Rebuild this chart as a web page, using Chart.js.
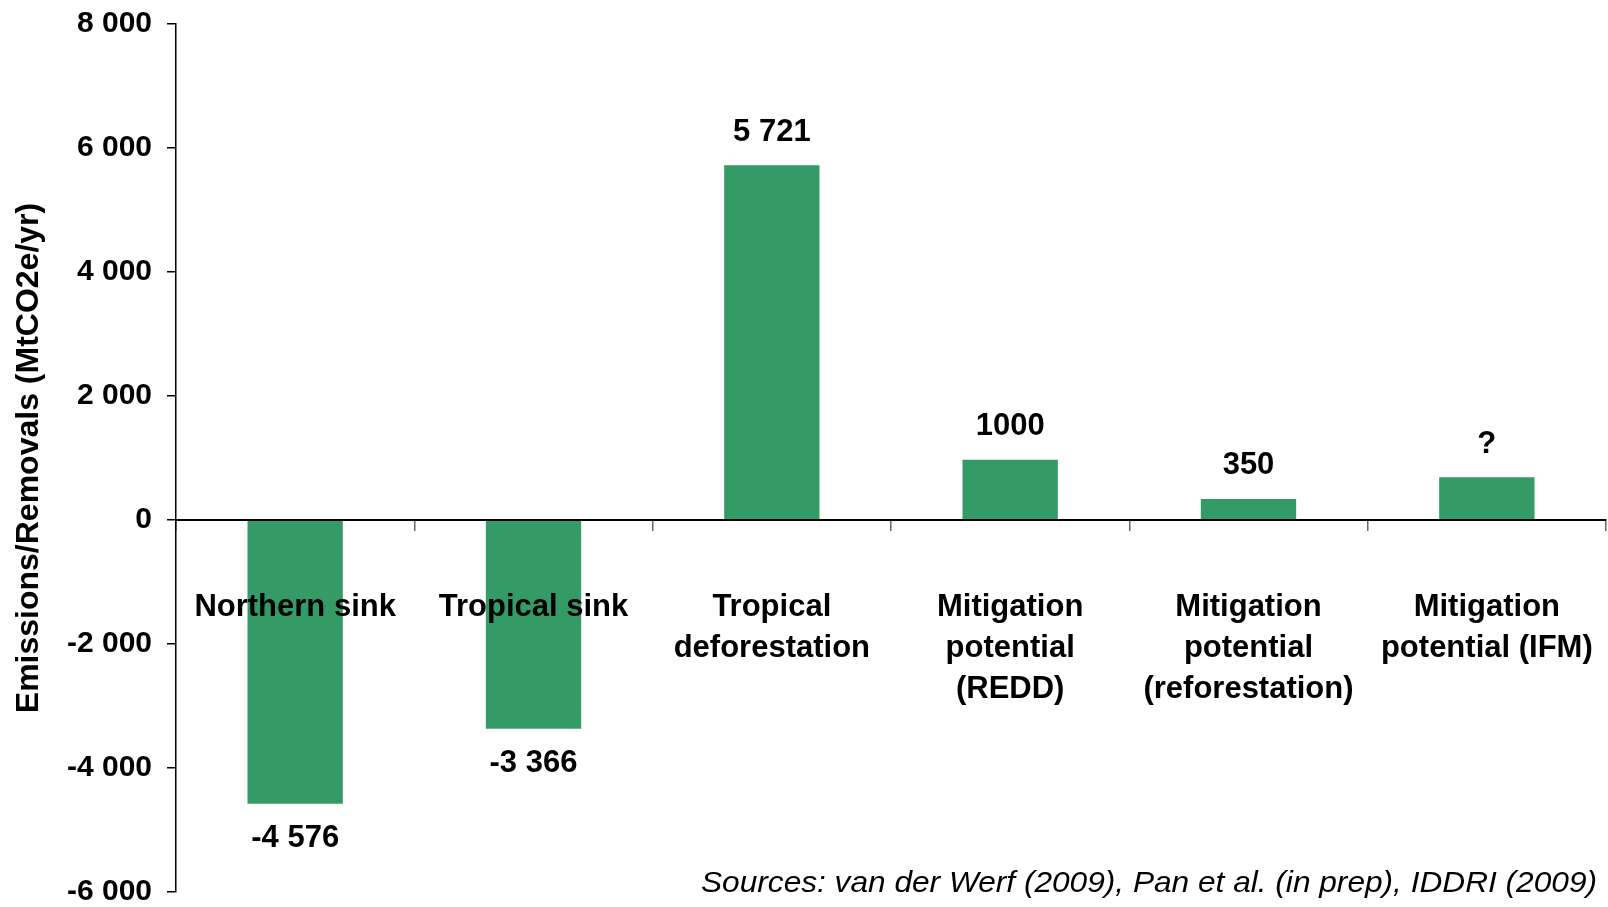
<!DOCTYPE html>
<html>
<head>
<meta charset="utf-8">
<script src="https://cdn.jsdelivr.net/npm/chart.js@4/dist/chart.umd.min.js"></script>
<style>
  html, body { margin: 0; padding: 0; background: #fff; }
  #wrap { width: 1608px; height: 907px; position: relative; }
</style>
</head>
<body>
<div id="wrap"><canvas id="c" width="1608" height="907"></canvas></div>
<script>
// ---- data ----
const categories = [
  ['Northern sink'],
  ['Tropical sink'],
  ['Tropical', 'deforestation'],
  ['Mitigation', 'potential', '(REDD)'],
  ['Mitigation', 'potential', '(reforestation)'],
  ['Mitigation', 'potential (IFM)']
];
const values = [-4576, -3366, 5721, 970, 340, 690];
const valueLabels = ['-4 576', '-3 366', '5 721', '1000', '350', '?'];
const yTickValues = [-6000, -4000, -2000, 0, 2000, 4000, 6000, 8000];
const yTickLabels = ['-6 000', '-4 000', '-2 000', '0', '2 000', '4 000', '6 000', '8 000'];
const yTitle = 'Emissions/Removals (MtCO2e/yr)';
const sourceNote = 'Sources: van der Werf (2009), Pan et al. (in prep), IDDRI (2009)';

const FONT = '"Liberation Sans", Arial, Helvetica, sans-serif';
const BAR = '#349B67';

const valueLabelPlugin = {
  id: 'valueLabels',
  afterDatasetsDraw(chart) {
    const ctx = chart.ctx;
    const meta = chart.getDatasetMeta(0);
    ctx.save();
    ctx.font = 'bold 31px ' + FONT;
    ctx.fillStyle = '#000';
    ctx.textAlign = 'center';
    ctx.textBaseline = 'middle';
    meta.data.forEach((bar, i) => {
      const v = values[i];
      const y = v >= 0 ? bar.y - 33 : bar.y + 35;
      ctx.fillText(valueLabels[i], bar.x, y);
    });
    ctx.restore();
  }
};

const sourcePlugin = {
  id: 'sourceNote',
  afterDraw(chart) {
    const ctx = chart.ctx;
    ctx.save();
    ctx.font = 'italic 30px ' + FONT;
    ctx.fillStyle = '#000';
    ctx.textBaseline = 'middle';
    ctx.textAlign = 'left';
    const w = ctx.measureText(sourceNote).width;
    const target = 896;
    const right = 1597;
    ctx.translate(right - target, 884);
    ctx.scale(target / w, 1);
    ctx.fillText(sourceNote, 0, 0);
    ctx.restore();
  }
};

new Chart(document.getElementById('c'), {
  type: 'bar',
  data: {
    labels: categories,
    datasets: [{
      data: values,
      backgroundColor: BAR,
      borderWidth: 0,
      barPercentage: 0.4,
      categoryPercentage: 1.0
    }]
  },
  options: {
    responsive: false,
    animation: false,
    layout: { padding: { top: 24, right: 2, bottom: 15, left: 0 } },
    plugins: {
      legend: { display: false },
      tooltip: { enabled: false }
    },
    scales: {
      x: {
        position: { y: 0 },
        offset: true,
        grid: {
          offset: true,
          drawOnChartArea: false,
          drawTicks: true,
          tickLength: 10,
          color: '#666',
          lineWidth: 1.5
        },
        border: { display: true, color: '#000', width: 2, z: 1 },
        ticks: {
          z: 1,
          padding: 57,
          maxRotation: 0,
          autoSkip: false,
          color: '#000',
          font: { family: FONT, size: 31, weight: 'bold', lineHeight: 41 / 31 }
        },
        afterFit(s) { s.paddingLeft = 0; s.paddingRight = 0; }
      },
      y: {
        min: -6000,
        max: 8000,
        afterBuildTicks(s) { s.ticks = yTickValues.map(v => ({ value: v })); },
        afterFit(s) { s.width = 176; s.paddingTop = 0; s.paddingBottom = 0; },
        grid: {
          drawOnChartArea: false,
          drawTicks: true,
          tickLength: 9,
          color: '#000',
          lineWidth: 1.5
        },
        border: { display: true, color: '#000', width: 1.5 },
        ticks: {
          padding: 15,
          color: '#000',
          font: { family: FONT, size: 30, weight: 'bold', lineHeight: 1.0 },
          callback(v) { const i = yTickValues.indexOf(v); return i >= 0 ? yTickLabels[i] : ''; }
        },
        title: {
          display: true,
          text: yTitle,
          color: '#000',
          padding: { top: 10, bottom: 0 },
          font: { family: FONT, size: 32, weight: 'bold', lineHeight: 1.2 }
        }
      }
    }
  },
  plugins: [valueLabelPlugin, sourcePlugin]
});
</script>
</body>
</html>
